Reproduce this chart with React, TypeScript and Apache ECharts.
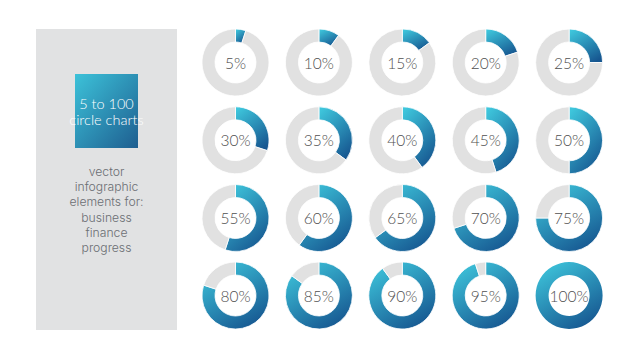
import React, { useEffect, useRef } from "react";
import * as echarts from "echarts";

const percents = [5, 10, 15, 20, 25, 30, 35, 40, 45, 50, 55, 60, 65, 70, 75, 80, 85, 90, 95, 100];
const colCenters = [235.5, 318.9, 402.3, 485.7, 569.1];
const rowCenters = [62.5, 140.3, 218, 295.5];
const titleLines = ["5 to 100", "circle charts"];
const subtitleLines = ["vector", "infographic", "elements for:", "business", "finance", "progress"];

export default function App() {
  const ref = useRef<HTMLDivElement>(null);
  useEffect(() => {
    document.body.style.margin = "0";
    const chart = echarts.init(ref.current!, null, { renderer: "svg" });
    const grad = () =>
      new echarts.graphic.LinearGradient(0.15, 0, 0.75, 1, [
        { offset: 0, color: "#3ec6dc" },
        { offset: 1, color: "#165690" },
      ]);
    const series = percents.map((p, i) => {
      const cx = colCenters[i % 5];
      const cy = rowCenters[Math.floor(i / 5)];
      const data: any[] = [
        {
          value: p,
          name: "filled",
          itemStyle: { color: grad() },
          label: {
            show: true,
            position: "center",
            formatter: p + "%",
            fontFamily: "Lato",
            fontSize: 15.5,
            fontWeight: 300,
            color: "#505050",
          },
        },
      ];
      if (p < 100) {
        data.push({ value: 100 - p, name: "rest", itemStyle: { color: "#e1e1e1" }, label: { show: false } });
      }
      return {
        type: "pie",
        center: [cx, cy],
        radius: [20.5, 33.5],
        startAngle: 90,
        clockwise: true,
        silent: true,
        labelLine: { show: false },
        itemStyle: { borderColor: "#ffffff", borderWidth: p < 100 ? 0.8 : 0 },
        label: { show: false },
        data,
      };
    });
    const graphic: any[] = [
      { type: "rect", shape: { x: 36, y: 29, width: 141, height: 301 }, style: { fill: "#e1e2e3" } },
      {
        type: "rect",
        shape: { x: 75, y: 74, width: 63, height: 74 },
        style: {
          fill: new echarts.graphic.LinearGradient(0, 0, 1, 1, [
            { offset: 0, color: "#3cc2d9" },
            { offset: 1, color: "#1e5e90" },
          ]),
        },
      },
      {
        type: "text",
        x: 106.5,
        y: 111,
        style: {
          text: titleLines.join("\n"),
          fill: "#ffffff",
          fontFamily: "Lato",
          fontSize: 14.5,
          fontWeight: 300,
          lineHeight: 16,
          align: "center",
          verticalAlign: "middle",
        },
      },
      {
        type: "text",
        x: 106.5,
        y: 209.5,
        style: {
          text: subtitleLines.join("\n"),
          fill: "#6b6e73",
          fontFamily: "Inter",
          fontSize: 12.2,
          fontWeight: 300,
          lineHeight: 15.2,
          align: "center",
          verticalAlign: "middle",
        },
      },
    ];
    chart.setOption({
      animation: false,
      backgroundColor: "#ffffff",
      graphic,
      series,
    });
    return () => chart.dispose();
  }, []);
  return <div ref={ref} style={{ position: "fixed", left: 0, top: 0, width: 639, height: 360 }} />;
}
